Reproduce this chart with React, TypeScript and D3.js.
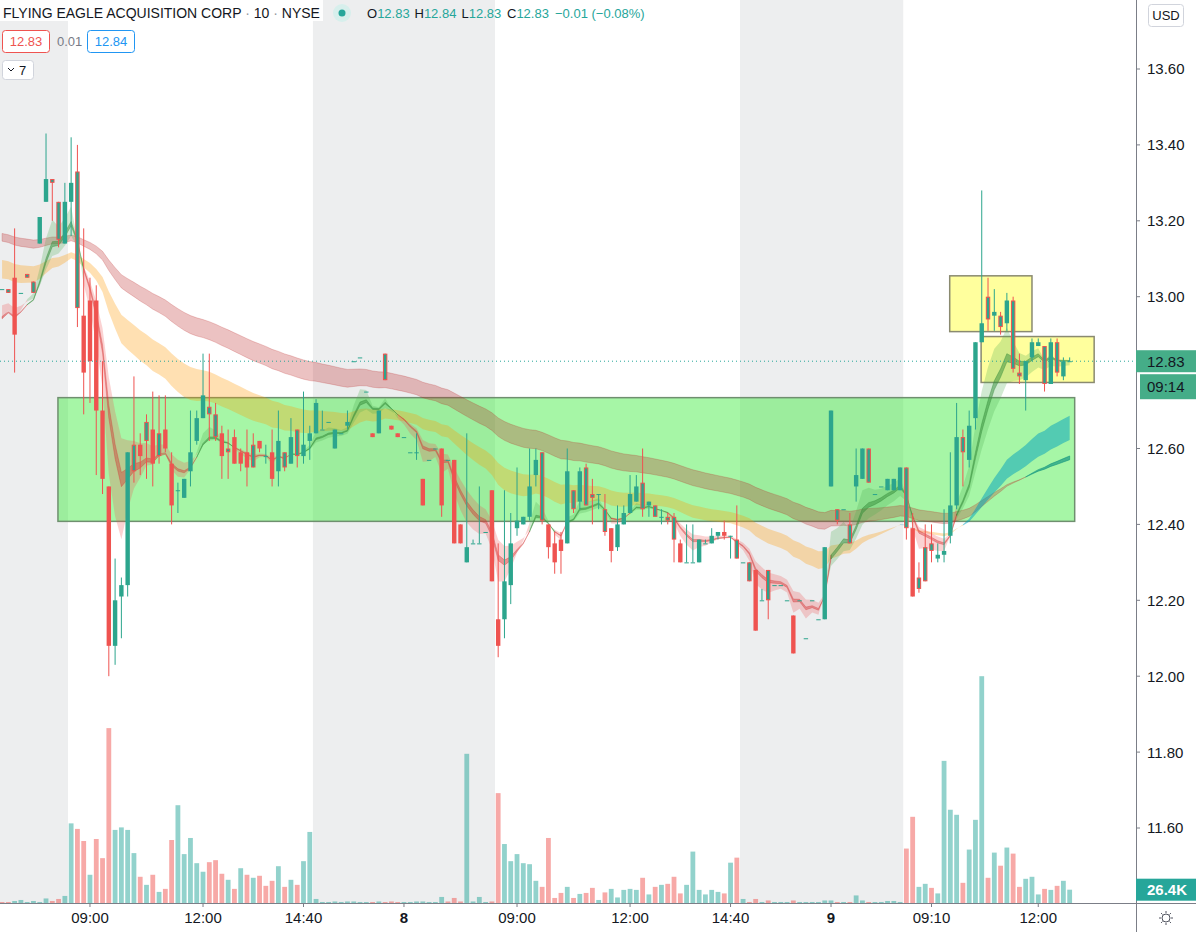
import React from "react";
import * as d3 from "d3";

// 10-minute bars, Dec 7 (pre-market) .. Dec 9
const opens = [
  13.02, 13.02, 13.05, 13.01, 13.06, 13.01, 13.14, 13.25, 13.31, 13.25,
  13.14, 13.25, 13.33, 12.95, 12.99, 12.99, 12.70, 12.50, 12.08, 12.21,
  12.24, 12.54, 12.61, 12.67, 12.65, 12.58, 12.65, 12.56, 12.49, 12.47,
  12.54, 12.62, 12.68, 12.71, 12.69, 12.64, 12.59, 12.63, 12.59, 12.59,
  12.61, 12.62, 12.58, 12.59, 12.54, 12.59, 12.56, 12.65, 12.58, 12.62,
  12.64, 12.65, 12.67, 12.60, 12.64, 12.66, 12.83, 12.84, 12.75, 12.64,
  12.64, 12.85, 12.66, 12.64, 12.63, 12.59, 12.59, 12.52, 12.57, 12.60,
  12.60, 12.57, 12.57, 12.40, 12.30, 12.35, 12.35, 12.38, 12.49, 12.15,
  12.15, 12.24, 12.39, 12.40, 12.42, 12.53, 12.59, 12.40, 12.35, 12.36,
  12.35, 12.49, 12.46, 12.55, 12.48, 12.48, 12.44, 12.39, 12.34, 12.40,
  12.43, 12.46, 12.51, 12.45, 12.45, 12.42, 12.42, 12.42, 12.35, 12.30,
  12.30, 12.30, 12.35, 12.35, 12.37, 12.38, 12.37, 12.36, 12.30, 12.30,
  12.28, 12.20, 12.28, 12.24, 12.24, 12.20, 12.16, 12.20, 12.10, 12.20,
  12.15, 12.15, 12.50, 12.44, 12.44, 12.40, 12.50, 12.52, 12.60, 12.48,
  12.50, 12.49, 12.49, 12.49, 12.55, 12.39, 12.26, 12.25, 12.35, 12.31,
  12.32, 12.37, 12.45, 12.63, 12.57, 12.68, 12.88, 13.00, 12.95, 12.95,
  12.93, 12.99, 12.80, 12.78, 12.84, 12.87, 12.87, 12.77, 12.88, 12.79,
  12.83,
];
const highs = [
  13.02, 13.02, 13.18, 13.01, 13.06, 13.04, 13.21, 13.43, 13.31, 13.25,
  13.30, 13.42, 13.40, 13.18, 13.05, 13.03, 12.83, 12.50, 12.31, 12.26,
  12.59, 12.79, 12.64, 12.69, 12.75, 12.74, 12.74, 12.59, 12.51, 12.52,
  12.70, 12.70, 12.85, 12.85, 12.72, 12.66, 12.65, 12.65, 12.60, 12.65,
  12.64, 12.62, 12.61, 12.65, 12.70, 12.59, 12.68, 12.65, 12.75, 12.66,
  12.73, 12.70, 12.67, 12.65, 12.64, 12.70, 12.83, 12.84, 12.75, 12.64,
  12.70, 12.85, 12.66, 12.64, 12.63, 12.59, 12.64, 12.52, 12.57, 12.60,
  12.60, 12.57, 12.57, 12.40, 12.64, 12.36, 12.50, 12.38, 12.49, 12.35,
  12.49, 12.43, 12.55, 12.42, 12.60, 12.60, 12.59, 12.40, 12.38, 12.38,
  12.60, 12.49, 12.55, 12.56, 12.52, 12.48, 12.48, 12.39, 12.45, 12.45,
  12.53, 12.53, 12.60, 12.46, 12.45, 12.44, 12.43, 12.43, 12.36, 12.40,
  12.40, 12.36, 12.36, 12.39, 12.38, 12.41, 12.37, 12.45, 12.30, 12.30,
  12.28, 12.23, 12.28, 12.24, 12.24, 12.20, 12.16, 12.20, 12.10, 12.20,
  12.15, 12.34, 12.70, 12.44, 12.44, 12.43, 12.60, 12.60, 12.60, 12.48,
  12.50, 12.52, 12.52, 12.55, 12.55, 12.43, 12.30, 12.40, 12.40, 12.35,
  12.44, 12.59, 12.72, 12.65, 12.70, 12.88, 13.28, 13.05, 13.02, 12.96,
  13.01, 13.00, 12.85, 12.83, 12.89, 12.89, 12.87, 12.89, 12.89, 12.84,
  12.84,
];
const lows = [
  13.02, 13.01, 12.80, 13.01, 13.05, 13.01, 13.14, 13.25, 13.20, 13.13,
  13.14, 13.16, 12.92, 12.69, 12.72, 12.53, 12.48, 12.00, 12.03, 12.10,
  12.21, 12.51, 12.53, 12.52, 12.50, 12.56, 12.59, 12.40, 12.43, 12.47,
  12.50, 12.61, 12.68, 12.62, 12.62, 12.52, 12.52, 12.56, 12.54, 12.50,
  12.55, 12.59, 12.56, 12.50, 12.50, 12.54, 12.56, 12.55, 12.56, 12.57,
  12.64, 12.65, 12.67, 12.60, 12.64, 12.65, 12.83, 12.84, 12.75, 12.63,
  12.64, 12.78, 12.65, 12.63, 12.63, 12.59, 12.57, 12.45, 12.57, 12.60,
  12.42, 12.57, 12.35, 12.35, 12.30, 12.35, 12.35, 12.38, 12.25, 12.05,
  12.10, 12.19, 12.37, 12.40, 12.41, 12.50, 12.40, 12.31, 12.27, 12.27,
  12.35, 12.43, 12.44, 12.45, 12.40, 12.44, 12.37, 12.30, 12.33, 12.40,
  12.43, 12.46, 12.42, 12.42, 12.42, 12.40, 12.40, 12.30, 12.30, 12.30,
  12.30, 12.30, 12.35, 12.35, 12.36, 12.36, 12.31, 12.31, 12.30, 12.25,
  12.12, 12.20, 12.15, 12.24, 12.24, 12.20, 12.06, 12.20, 12.10, 12.20,
  12.15, 12.15, 12.50, 12.40, 12.44, 12.35, 12.46, 12.52, 12.51, 12.48,
  12.50, 12.49, 12.49, 12.49, 12.36, 12.21, 12.22, 12.25, 12.30, 12.30,
  12.30, 12.35, 12.44, 12.50, 12.55, 12.65, 12.88, 12.91, 12.91, 12.90,
  12.91, 12.80, 12.77, 12.70, 12.83, 12.87, 12.75, 12.77, 12.79, 12.78,
  12.83,
];
const closes = [
  13.02, 13.01, 12.90, 13.01, 13.05, 13.04, 13.21, 13.31, 13.30, 13.15,
  13.25, 13.30, 12.97, 12.80, 12.83, 12.70, 12.52, 12.08, 12.20, 12.24,
  12.59, 12.61, 12.58, 12.62, 12.56, 12.64, 12.60, 12.45, 12.49, 12.52,
  12.59, 12.68, 12.74, 12.69, 12.63, 12.58, 12.60, 12.56, 12.56, 12.55,
  12.55, 12.60, 12.58, 12.52, 12.62, 12.55, 12.63, 12.58, 12.61, 12.64,
  12.72, 12.65, 12.67, 12.65, 12.64, 12.67, 12.83, 12.84, 12.75, 12.63,
  12.70, 12.78, 12.65, 12.63, 12.63, 12.59, 12.59, 12.45, 12.57, 12.60,
  12.45, 12.57, 12.35, 12.35, 12.34, 12.35, 12.35, 12.38, 12.25, 12.08,
  12.25, 12.35, 12.41, 12.42, 12.50, 12.57, 12.41, 12.34, 12.30, 12.33,
  12.54, 12.44, 12.54, 12.45, 12.47, 12.48, 12.38, 12.33, 12.40, 12.43,
  12.48, 12.50, 12.44, 12.46, 12.42, 12.42, 12.41, 12.36, 12.30, 12.30,
  12.30, 12.36, 12.35, 12.37, 12.38, 12.37, 12.37, 12.31, 12.30, 12.25,
  12.12, 12.20, 12.20, 12.24, 12.24, 12.20, 12.06, 12.20, 12.10, 12.20,
  12.15, 12.34, 12.70, 12.41, 12.44, 12.35, 12.53, 12.60, 12.51, 12.48,
  12.50, 12.52, 12.52, 12.55, 12.39, 12.21, 12.23, 12.34, 12.33, 12.32,
  12.33, 12.45, 12.63, 12.59, 12.66, 12.88, 12.93, 12.94, 12.96, 12.92,
  12.99, 12.81, 12.79, 12.83, 12.88, 12.88, 12.77, 12.88, 12.80, 12.83,
  12.83,
];
// volume, thousands of shares
const volumes = [
  2, 2, 4, 6, 2, 4, 2, 9, 4, 8,
  14, 158, 147, 123, 56, 127, 89, 347, 145, 150,
  145, 99, 52, 36, 56, 22, 28, 125, 194, 97,
  129, 79, 62, 81, 85, 58, 46, 28, 69, 56,
  50, 54, 34, 44, 73, 32, 46, 36, 83, 141,
  8, 2, 2, 3, 2, 3, 3, 2, 2, 2,
  3, 2, 3, 2, 2, 2, 3, 3, 2, 2,
  12, 3, 10, 3, 296, 3, 12, 2, 3, 218,
  117, 83, 97, 79, 77, 44, 32, 129, 10, 20,
  32, 10, 18, 20, 30, 6, 21, 28, 11, 26,
  28, 26, 50, 17, 32, 36, 38, 52, 19, 36,
  102, 26, 17, 26, 22, 19, 80, 90, 8, 2,
  8, 2, 5, 2, 2, 2, 5, 2, 2, 2,
  2, 5, 5, 2, 2, 2, 15, 5, 2, 2,
  2, 4, 4, 2, 108, 171, 32, 38, 30, 19,
  282, 185, 175, 40, 106, 165, 450, 50, 100, 74,
  110, 98, 32, 48, 52, 17, 28, 26, 34, 44,
  26.4,
];
// u = volume bar drawn up-colour, d = down-colour
const volumeDirs =
  "dduuuuuudd" + "uudduddduu" + "uudududduu" + "uuudddudud" + "udddududuu" +
  "uuuuuuuuud" + "uddduuuuuu" + "uddduuuudd" + "uuuuuudddd" + "ududduduuu" +
  "uudududddu" + "uuuuududud" + "duduuuduuu" + "uuududuudu" + "uuuudduudu" +
  "uuuduuudud" + "udduuududu" + "u";
// bars drawn with a green body and a red outline
const mutedBars = [
  1, 4, 5, 8, 9, 12, 21, 23, 25, 33, 34, 36, 40, 45, 47, 61, 86, 91, 93, 94,
  96, 102, 104, 106, 107, 117, 119, 122, 133, 135, 138, 144, 146, 147, 148,
  153, 157, 159, 161, 162, 166, 168,
];
// extended-hours stretches, first and last bar
const extendedSessions: [number, number][] = [[0, 10], [50, 78], [118, 143]];
const timeTicks = [
  { bar: 14, label: "09:00" }, { bar: 32, label: "12:00" }, { bar: 48, label: "14:40" },
  { bar: 64, label: "8", day: true }, { bar: 82, label: "09:00" }, { bar: 100, label: "12:00" },
  { bar: 116, label: "14:40" }, { bar: 132, label: "9", day: true }, { bar: 148, label: "09:10" },
  { bar: 165, label: "12:00" },
];
const priceTicks = [11.6, 11.8, 12.0, 12.2, 12.4, 12.6, 13.0, 13.2, 13.4, 13.6];

// EMA cloud pairs with their starting values (history before the first bar)
const cloudPairs = [
  { fast: 72, slow: 89, seedFast: 13.15, seedSlow: 13.17, bull: "rgba(0,137,123,0.6)", bear: "rgba(183,28,28,0.27)", edge: true },
  { fast: 34, slow: 50, seedFast: 13.05, seedSlow: 13.10, bull: "rgba(0,160,190,0.5)", bear: "rgba(255,152,0,0.3)", edge: false },
  { fast: 5, slow: 12, seedFast: 12.90, seedSlow: 12.97, bull: "rgba(76,175,80,0.26)", bear: "rgba(239,83,80,0.26)", edge: false },
  { fast: 8, slow: 9, seedFast: 12.92, seedSlow: 12.93, bull: "rgba(56,142,60,0.5)", bear: "rgba(211,47,47,0.4)", edge: true },
];

// drawings: bar index span and price span
const zoneBox = { from: 8.9, to: 170.8, top: 12.734, bottom: 12.408 };
const yellowBoxes = [
  { from: 150.9, to: 164.0, top: 13.055, bottom: 12.908 },
  { from: 155.9, to: 173.9, top: 12.895, bottom: 12.774 },
];
const lastPrice = 12.83;
const countdown = "09:14";

const FONT = "'Liberation Sans', Arial, Helvetica, sans-serif";
const UP = "#2ca58d";
const DOWN = "#ef5350";
const TEAL = "#26a69a";
const TXT = "#131722";

function ema(values: number[], period: number, seed: number) {
  const k = 2 / (period + 1);
  let e = seed;
  return values.map((v) => (e += k * (v - e)));
}

function runs(a: number[], b: number[]) {
  const out: { bull: boolean; idx: number[] }[] = [];
  let cur: { bull: boolean; idx: number[] } | null = null;
  a.forEach((v, i) => {
    const bull = v >= b[i];
    if (!cur || cur.bull !== bull) {
      if (cur) cur.idx.push(i);
      cur = { bull, idx: [i] };
      out.push(cur);
    } else cur.idx.push(i);
  });
  return out;
}

export default function App() {
  const n = closes.length;
  const step = 6.28;
  const paneR = 1136;
  const paneB = 903;
  const x = d3.scaleLinear().domain([0, n - 1]).range([2.06, 2.06 + step * (n - 1)]);
  const y = d3.scaleLinear().domain([11.6, 13.6]).range([828, 69]);
  const yv = d3.scaleLinear().domain([0, 450]).range([paneB, 676.2]);
  const muted = new Set(mutedBars);
  const bw = 4.4;
  const vw = 4.8;

  const clouds = cloudPairs.map((p) => {
    const f = ema(closes, p.fast, p.seedFast);
    const s = ema(closes, p.slow, p.seedSlow);
    const area = d3.area<number>().x((i) => x(i)).y0((i) => y(f[i])).y1((i) => y(s[i]));
    return runs(f, s).map((r) => ({ d: area(r.idx) || "", color: r.bull ? p.bull : p.bear, edge: p.edge }));
  });

  const lastVol = volumes[n - 1];

  return (
    <div style={{ position: "absolute", left: 0, top: 0 }}>
      <svg width={1196} height={932} style={{ display: "block", fontFamily: FONT }}>
        <defs>
          <clipPath id="pane">
            <rect x={0} y={0} width={paneR} height={paneB} />
          </clipPath>
        </defs>
        <rect width={1196} height={932} fill="#fff" />
        <g clipPath="url(#pane)">
          {extendedSessions.map(([a, b], k) => (
            <rect key={k} x={x(a) - step / 2} y={0} width={x(b) - x(a) + step} height={paneB} fill="#edeeef" />
          ))}
          {volumes.map((v, i) => (
            <rect key={i} x={x(i) - vw / 2} y={yv(v)} width={vw} height={paneB - yv(v)}
              fill={volumeDirs[i] === "u" ? "rgba(38,166,154,0.5)" : "rgba(239,83,80,0.5)"} />
          ))}
          <rect x={x(zoneBox.from)} y={y(zoneBox.top)} width={x(zoneBox.to) - x(zoneBox.from)}
            height={y(zoneBox.bottom) - y(zoneBox.top)} fill="rgba(60,235,60,0.46)" stroke="#6f8f6f" strokeWidth={1.5} />
          {yellowBoxes.map((b, k) => (
            <rect key={k} x={x(b.from)} y={y(b.top)} width={x(b.to) - x(b.from)} height={y(b.bottom) - y(b.top)}
              fill="rgba(255,255,60,0.5)" stroke="#8a8a70" strokeWidth={1.5} />
          ))}
          {clouds.map((segs, k) => (
            <g key={k}>
              {segs.map((s, j) => (
                <path key={j} d={s.d} fill={s.color} stroke={s.edge ? s.color : "none"} strokeWidth={s.edge ? 0.8 : 0} />
              ))}
            </g>
          ))}
          {closes.map((c, i) => {
            const o = opens[i];
            const m = muted.has(i);
            const up = c >= o;
            const edge = m || !up ? DOWN : UP;
            const fill = m || up ? UP : DOWN;
            const top = y(Math.max(o, c));
            const h = Math.max(1, y(Math.min(o, c)) - top);
            const cx = x(i);
            return (
              <g key={i}>
                <line x1={cx} x2={cx} y1={y(highs[i])} y2={y(lows[i])} stroke={edge} strokeWidth={1} />
                {m ? (
                  <rect x={cx - bw / 2 + 0.5} y={top + 0.5} width={bw - 1} height={Math.max(0.5, h - 1)} fill={fill} stroke={edge} strokeWidth={1} />
                ) : (
                  <rect x={cx - bw / 2} y={top} width={bw} height={h} fill={fill} />
                )}
              </g>
            );
          })}
          <line x1={0} x2={paneR} y1={y(lastPrice)} y2={y(lastPrice)} stroke={TEAL} strokeWidth={1} strokeDasharray="1 3" />
        </g>

        {/* axes frame */}
        <line x1={paneR + 0.5} x2={paneR + 0.5} y1={0} y2={932} stroke="#7b7e87" strokeWidth={1} />
        <line x1={0} x2={1196} y1={paneB + 0.5} y2={paneB + 0.5} stroke="#7b7e87" strokeWidth={1} />

        {priceTicks.map((p) => (
          <g key={p}>
            <line x1={paneR} x2={paneR + 4} y1={y(p)} y2={y(p)} stroke="#7b7e87" />
            <text x={1147} y={y(p)} dy="0.36em" fontSize={15} fill={TXT}>{p.toFixed(2)}</text>
          </g>
        ))}
        {timeTicks.map((t) => (
          <g key={t.bar}>
            <line x1={x(t.bar)} x2={x(t.bar)} y1={paneB} y2={paneB + 4} stroke="#7b7e87" />
            <text x={x(t.bar)} y={923} textAnchor="middle" fontSize={15} fontWeight={t.day ? "bold" : "normal"} fill={TXT}>{t.label}</text>
          </g>
        ))}

        {/* last price + countdown + volume labels */}
        <rect x={paneR} y={y(lastPrice) - 11} width={60} height={22} fill="#45ad88" />
        <text x={1147} y={y(lastPrice)} dy="0.36em" fontSize={15} fill={TXT}>{lastPrice.toFixed(2)}</text>
        <rect x={1140} y={y(lastPrice) + 13} width={56} height={25} fill="#45ad88" />
        <text x={1147} y={y(lastPrice) + 25.5} dy="0.36em" fontSize={15} fill={TXT}>{countdown}</text>
        <rect x={paneR} y={yv(lastVol) - 11} width={60} height={22} fill={TEAL} />
        <text x={1147} y={yv(lastVol)} dy="0.36em" fontSize={15} fill="#fff" fontWeight="bold">{lastVol.toFixed(1)}K</text>

        <rect x={1148.5} y={4.5} width={35} height={22} rx={3} fill="#fff" stroke="#d1d4dc" />
        <text x={1166} y={15.5} dy="0.36em" textAnchor="middle" fontSize={13} fill={TXT}>USD</text>

        <g transform="translate(1166,918)" stroke="#50535e" fill="none" strokeWidth={1}>
          <circle r={4} />
          {d3.range(8).map((k) => {
            const a = (k * Math.PI) / 4;
            return <line key={k} x1={Math.cos(a) * 5} y1={Math.sin(a) * 5} x2={Math.cos(a) * 7} y2={Math.sin(a) * 7} />;
          })}
        </g>

        {/* legend */}
        <rect x={0} y={0} width={323} height={21} fill="#fff" opacity={0.9} />
        <text x={3} y={18} fontSize={14} fill={TXT}>
          FLYING EAGLE ACQUISITION CORP<tspan fill="#9598a1"> · </tspan>10<tspan fill="#9598a1"> · </tspan>NYSE
        </text>
        <circle cx={342} cy={13} r={9} fill="#d7efec" />
        <circle cx={342} cy={13} r={3.5} fill={TEAL} />
        <text y={18} fontSize={13} fill={TEAL}>
          <tspan x={367} fill={TXT}>O</tspan><tspan>12.83</tspan>
          <tspan x={414.5} fill={TXT}>H</tspan><tspan>12.84</tspan>
          <tspan x={461.5} fill={TXT}>L</tspan><tspan>12.83</tspan>
          <tspan x={507} fill={TXT}>C</tspan><tspan>12.83</tspan>
          <tspan x={555}>−0.01 (−0.08%)</tspan>
        </text>
        <rect x={2.5} y={30.5} width={47} height={22} rx={3} fill="#fff" stroke={DOWN} />
        <text x={26} y={46} textAnchor="middle" fontSize={13} fill={DOWN}>12.83</text>
        <text x={57} y={46} fontSize={13} fill="#787b86">0.01</text>
        <rect x={87.5} y={30.5} width={47} height={22} rx={3} fill="#fff" stroke="#2196f3" />
        <text x={111} y={46} textAnchor="middle" fontSize={13} fill="#2196f3">12.84</text>
        <rect x={2.5} y={60.5} width={31} height={19} rx={3} fill="#fff" stroke="#d1d4dc" />
        <path d="M8,68 l3,3 l3,-3" fill="none" stroke={TXT} strokeWidth={1} />
        <text x={19} y={75} fontSize={13} fill={TXT}>7</text>
      </svg>
    </div>
  );
}
